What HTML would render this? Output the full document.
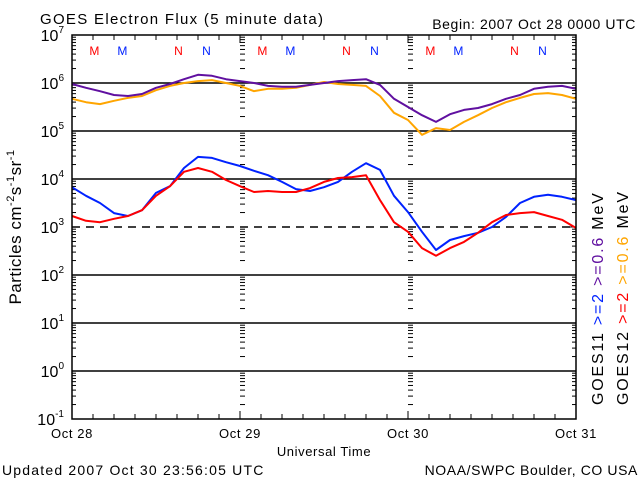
<!DOCTYPE html>
<html><head><meta charset="utf-8"><style>
html,body{margin:0;padding:0;background:#fff;}
svg{display:block;font-family:"Liberation Sans",sans-serif;}
</style></head><body>
<svg id="chart" width="640" height="480" viewBox="0 0 640 480" xmlns="http://www.w3.org/2000/svg">
<text x="40" y="24" font-size="15" letter-spacing="1.3">GOES Electron Flux (5 minute data)</text>
<text x="636" y="29" font-size="14" letter-spacing="0.6" text-anchor="end">Begin: 2007 Oct 28 0000 UTC</text>
<text transform="translate(21,227) rotate(-90)" font-size="17" letter-spacing="0.5" text-anchor="middle">Particles cm<tspan dy="-7" font-size="11">-2</tspan><tspan dy="7">s</tspan><tspan dy="-7" font-size="11">-1</tspan><tspan dy="7">sr</tspan><tspan dy="-7" font-size="11">-1</tspan></text>
<text x="324" y="456" font-size="13" letter-spacing="0.6" text-anchor="middle">Universal Time</text>
<text x="2" y="475" font-size="14" letter-spacing="1.2">Updated 2007 Oct 30 23:56:05 UTC</text>
<text x="638" y="475" font-size="14" letter-spacing="0.6" text-anchor="end">NOAA/SWPC Boulder, CO USA</text>
<text transform="translate(603,405) rotate(-90)" font-size="16" letter-spacing="1.8"><tspan fill="#000">GOES11 </tspan><tspan fill="#0022ff">&gt;=2 </tspan><tspan fill="#6010a0">&gt;=0.6 </tspan><tspan fill="#000">MeV</tspan></text>
<text transform="translate(628,405) rotate(-90)" font-size="16" letter-spacing="1.8"><tspan fill="#000">GOES12 </tspan><tspan fill="#ff0000">&gt;=2 </tspan><tspan fill="#ffa500">&gt;=0.6 </tspan><tspan fill="#000">MeV</tspan></text>
<g id="axes"></g>
<g id="series"></g>
<rect x="72" y="35" width="504" height="384" fill="none" stroke="#000" stroke-width="1.5"/>
</svg>
<script>
const hours = [0,2,4,6,8,10,12,14,16,18,20,22,24,26,28,30,32,34,36,38,40,42,44,46,48,50,52,54,56,58,60,62,64,66,68,70,72];
const purpleLog = [5.98,5.90,5.83,5.75,5.73,5.77,5.90,5.98,6.08,6.17,6.15,6.08,6.04,6.00,5.94,5.92,5.92,5.96,6.00,6.04,6.06,6.08,5.96,5.67,5.50,5.33,5.19,5.35,5.44,5.48,5.56,5.67,5.75,5.88,5.92,5.94,5.88];
const orangeLog = [5.67,5.60,5.56,5.63,5.69,5.73,5.85,5.94,6.00,6.04,6.06,6.00,5.94,5.83,5.88,5.88,5.90,5.96,6.02,5.98,5.96,5.94,5.73,5.38,5.23,4.92,5.06,5.02,5.19,5.33,5.48,5.60,5.69,5.77,5.79,5.75,5.67];
const blueLog = [3.83,3.65,3.50,3.29,3.23,3.35,3.71,3.85,4.23,4.46,4.44,4.35,4.27,4.17,4.08,3.94,3.79,3.75,3.83,3.94,4.15,4.33,4.19,3.65,3.31,2.90,2.52,2.73,2.81,2.88,3.00,3.21,3.50,3.63,3.67,3.63,3.56];
const redLog = [3.23,3.13,3.10,3.17,3.23,3.35,3.65,3.85,4.15,4.23,4.15,3.98,3.85,3.73,3.75,3.73,3.73,3.81,3.94,4.02,4.04,4.08,3.56,3.10,2.90,2.56,2.40,2.56,2.69,2.88,3.10,3.25,3.29,3.31,3.23,3.15,2.98];
const decadeLabels = [7,6,5,4,3,2,1,0,-1];
const dayLabels = ["Oct 28","Oct 29","Oct 30","Oct 31"];
const markerLabels = [["M",3.2,"#ff0000"],["M",7.2,"#0022ff"],["N",15.2,"#ff0000"],["N",19.2,"#0022ff"]];

const NS="http://www.w3.org/2000/svg";
const X0=72,X1=576,Y0=35,Y1=419,H=72;
const xs=h=>X0+(X1-X0)*h/H;
const ys=l=>Y0+(7-l)*(Y1-Y0)/8;
function mk(tag,attrs,parent){const e=document.createElementNS(NS,tag);for(const k in attrs)e.setAttribute(k,attrs[k]);parent.appendChild(e);return e;}
const ax=document.getElementById('axes');
decadeLabels.forEach(d=>{
  if(d>-1&&d<7){
    const l=mk('line',{x1:X0,x2:X1,y1:ys(d),y2:ys(d),stroke:'#000','stroke-width':1.5},ax);
    
    
    if(d===3)l.setAttribute('stroke-dasharray','8,6');
  }
  const t=mk('text',{x:X0-8,y:ys(d)+6,'font-size':16,'text-anchor':'end'},ax);
  
  
  t.innerHTML='10<tspan dy="-8" font-size="10">'+d+'</tspan>';
});
for(let d=-1;d<7;d++){
  for(let m=1;m<10;m++){
    const y=ys(d+Math.log10(m));
    const len=m===1?8:4;
    [[X0,X0+len],[X1-len,X1],[xs(24),xs(24)+5],[xs(48),xs(48)+5]].forEach(p=>{
      mk('line',{x1:p[0],x2:p[1],y1:y,y2:y,stroke:'#000','stroke-width':1},ax);
    });
  }
}
for(let h=0;h<=72;h+=3){
  const len=h%24===0?8:5;
  mk('line',{x1:xs(h),x2:xs(h),y1:Y1,y2:Y1-len,stroke:'#000','stroke-width':1},ax);
  mk('line',{x1:xs(h),x2:xs(h),y1:Y0,y2:Y0+len,stroke:'#000','stroke-width':1},ax);
}
dayLabels.forEach((s,i)=>{
  const t=mk('text',{x:xs(i*24),y:438,'font-size':13,'letter-spacing':0.6,'text-anchor':'middle'},ax);
  
  
  t.textContent=s;
});
for(let d=0;d<3;d++){
  markerLabels.forEach(m=>{
    const t=mk('text',{x:xs(d*24+m[1]),y:55,'font-size':12,'text-anchor':'middle',fill:m[2]},ax);
    
    
    t.textContent=m[0];
  });
}
const sg=document.getElementById('series');
function line(vals,color,name){
  const pts=vals.map((v,i)=>xs(hours[i]).toFixed(1)+','+ys(v).toFixed(1)).join(' ');
  const p=mk('polyline',{points:pts,fill:'none',stroke:color,'stroke-width':2,'stroke-linejoin':'round'},sg);
  
  
}
line(orangeLog,'#ffa500','goes12-ge0.6-series');
line(purpleLog,'#6010a0','goes11-ge0.6-series');
line(blueLog,'#0022ff','goes11-ge2-series');
line(redLog,'#ff0000','goes12-ge2-series');
</script>
</body></html>
